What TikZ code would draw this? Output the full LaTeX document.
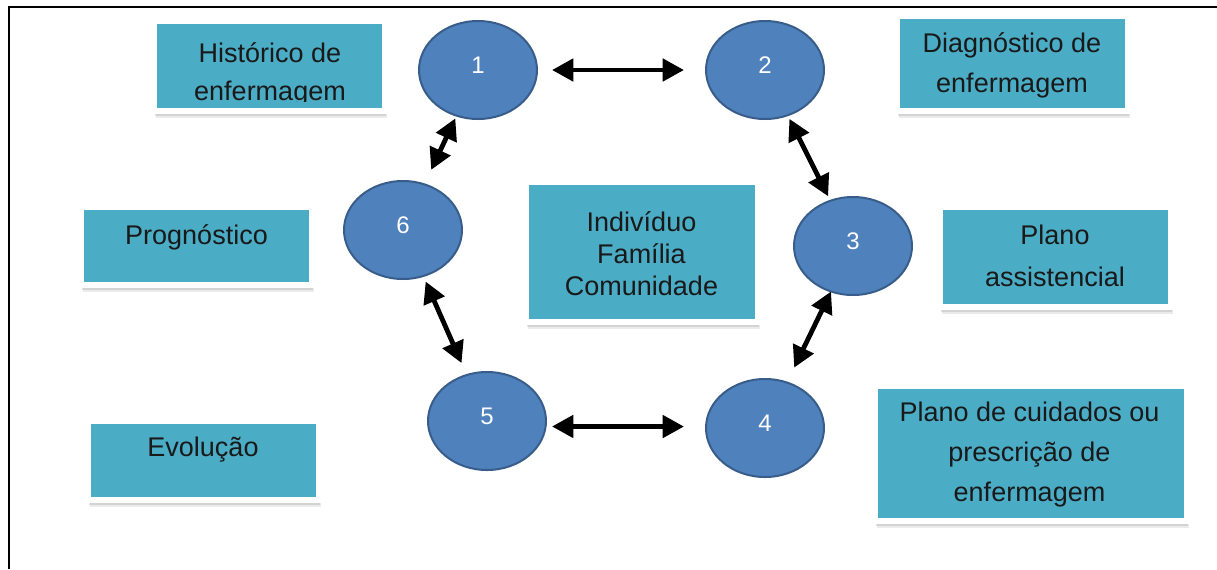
\documentclass[tikz,border=0pt]{standalone}
\usepackage{fontspec}
\setmainfont{Liberation Sans}
\usetikzlibrary{shapes.geometric,arrows.meta,shadows}
\definecolor{ellfill}{HTML}{4F81BD}
\definecolor{elldraw}{HTML}{385D8A}
\definecolor{boxfill}{HTML}{4BACC6}
\begin{document}
\begin{tikzpicture}[x=0.75pt,y=-0.75pt,
  stage/.style={ellipse, fill=ellfill, draw=elldraw, line width=1.5pt, minimum width=88.5pt, minimum height=73.5pt, inner sep=0pt, outer sep=0pt},
  numlab/.style={text=white, font=\fontsize{18}{20}\selectfont, yshift=3.75pt, inner sep=0pt},
  infobox/.style={rectangle, fill=boxfill, draw=white, line width=4.5pt, inner sep=0pt, outer sep=0pt,
     drop shadow={shadow xshift=0.4pt, shadow yshift=-2.5pt, fill=black, opacity=0.10},
     drop shadow={shadow xshift=0.8pt, shadow yshift=-3.8pt, fill=black, opacity=0.10},
     drop shadow={shadow xshift=1.2pt, shadow yshift=-5pt, fill=black, opacity=0.08}},
  boxtext/.style={align=center, text=black!90, inner sep=0pt},
  link/.style={line width=3.6pt, {Triangle[length=16pt,width=16.5pt]}-{Triangle[length=16pt,width=16.5pt]}}
]
\useasboundingbox (0,0) rectangle (1217,569);
% frame
\draw[line width=1.5pt] (9,569) -- (9,7) -- (1217,7);

% boxes
\node[infobox, minimum width=173.25pt, minimum height=67.5pt] (b1) at (269.5,66) {};
\node[infobox, minimum width=173.25pt, minimum height=71.25pt] (b2) at (1012.5,63.5) {};
\node[infobox, minimum width=173.25pt, minimum height=58.5pt] (b6) at (196.5,246) {};
\node[infobox, minimum width=174pt, minimum height=105pt] (bc) at (642,252) {};
\node[infobox, minimum width=173.25pt, minimum height=75pt] (b3) at (1055.5,257) {};
\node[infobox, minimum width=173.25pt, minimum height=59.25pt] (b5) at (203.5,460.5) {};
\node[infobox, minimum width=234pt, minimum height=101.25pt] (b4) at (1031,453.5) {};

% box texts
\begin{scope}
\clip (157,24) rectangle (382,101);
\node[boxtext, font=\fontsize{20.25}{28.5}\selectfont] (t1) at (270,74) {Histórico de\\enfermagem};
\end{scope}
\node[boxtext, font=\fontsize{20.25}{30}\selectfont] (t2) at (1012,65) {Diagnóstico de\\enfermagem};
\node[boxtext, font=\fontsize{20.25}{30}\selectfont] (t6) at (196.5,237) {Prognóstico};
\node[boxtext, font=\fontsize{20.25}{24}\selectfont] (tc) at (641.5,254) {Indivíduo\\Família\\Comunidade};
\node[boxtext, font=\fontsize{20.25}{31.5}\selectfont] (t3) at (1055,256) {Plano\\assistencial};
\node[boxtext, font=\fontsize{20.25}{30}\selectfont] (t5) at (203,450) {Evolução};
\node[boxtext, font=\fontsize{20.25}{30}\selectfont] (t4) at (1029.5,455) {Plano de cuidados ou\\prescrição de\\enfermagem};

% stages
\node[stage] (e1) at (478,70) {};
\node[stage] (e2) at (765,70) {};
\node[stage] (e3) at (853,246) {};
\node[stage] (e4) at (765,428) {};
\node[stage] (e5) at (487,421) {};
\node[stage] (e6) at (403,230) {};
\node[numlab] (n1) at (e1) {1};
\node[numlab] (n2) at (e2) {2};
\node[numlab] (n3) at (e3) {3};
\node[numlab] (n4) at (e4) {4};
\node[numlab] (n5) at (e5) {5};
\node[numlab] (n6) at (e6) {6};

% links
\draw[link, shorten <=11.25pt, shorten >=16.5pt] (e1) -- (e2);
\draw[link, shorten <=2.25pt, shorten >=12pt] (e1) -- (e6);
\draw[link, shorten <=3pt, shorten >=3.75pt] (e2) -- (e3);
\draw[link, shorten <=0pt, shorten >=12.4pt] (e3) -- (e4);
\draw[link] ([xshift=4.5pt,yshift=-4.1pt]e5.east) -- ([xshift=-16.5pt,yshift=1.1pt]e4.west);
\draw[link, shorten <=4.5pt, shorten >=9.75pt] (e6) -- (e5);
\end{tikzpicture}
\end{document}
